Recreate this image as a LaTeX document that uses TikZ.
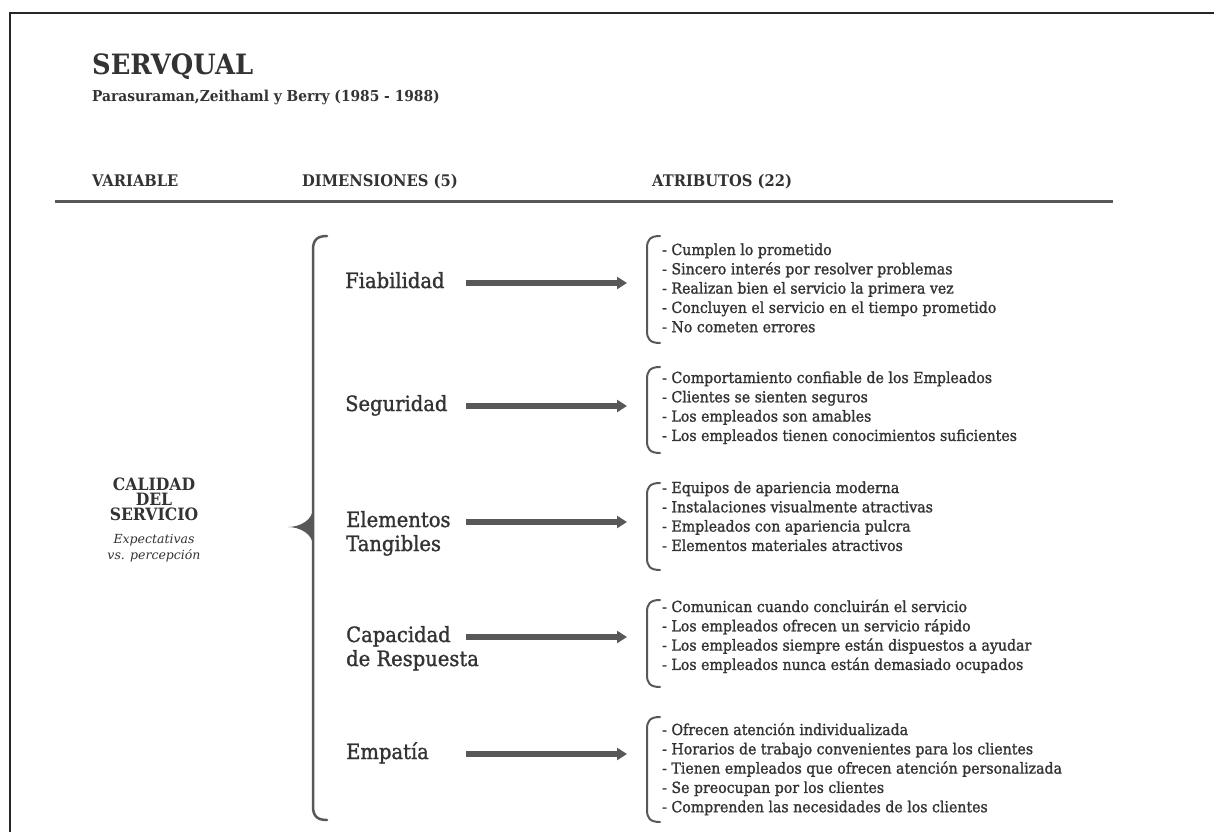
\documentclass[tikz,border=0pt]{standalone}
\usepackage{fontspec}
\setmainfont{DejaVu Serif}
\newfontfamily\txtfont{DejaVu Serif}[FakeStretch=0.93, RawFeature={embolden=1.3}]
\newfontfamily\titlefont{DejaVu Serif Bold}[FakeStretch=0.92]
\usetikzlibrary{arrows.meta}
\definecolor{ink}{HTML}{333333}
\definecolor{linegray}{HTML}{585858}
\tikzset{
  attr/.style={anchor=base west, font=\txtfont\fontsize{15.2}{17}\selectfont, text=ink, inner sep=0},
  dim/.style={anchor=base west, font=\txtfont\fontsize{21}{24}\selectfont, text=ink, inner sep=0},
  hdr/.style={anchor=base west, font=\titlefont\fontsize{16}{18}\selectfont, text=ink, inner sep=0},
  varb/.style={anchor=base, font=\titlefont\fontsize{17}{18}\selectfont, text=ink, inner sep=0, text height=12.2pt, text depth=0pt},
  vari/.style={anchor=base, font=\itshape\fontsize{12.5}{14}\selectfont, text=ink, inner sep=0},
  arr/.style={line width=5.5pt, draw=linegray, -{Triangle[length=10pt,width=12pt]}},
  brk/.style={draw=linegray, line width=2.5pt, line cap=round},
  sbrk/.style={draw=linegray, line width=2pt, line cap=round},
}
\newcommand\attrbrk[2]{%
  \draw[sbrk] (660,#1) .. controls (650,#1) and (647,{#1+4}) .. (647,{#1+12})
    -- (647,{#2-12}) .. controls (647,{#2-4}) and (650,#2) .. (660,#2);}
\begin{document}
\begin{tikzpicture}[x=1pt,y=-1pt]
\useasboundingbox (0,0) rectangle (1214,832);
\fill[white] (0,0) rectangle (1214,832);
% frame
\draw[line width=2pt, draw=black!85] (10,832) -- (10,13) -- (1214,13);
% title
\node[anchor=base west, font=\titlefont\fontsize{28}{30}\selectfont, text=ink, inner sep=0] (title) at (92,75) {SERVQUAL};
\node[anchor=base west, font=\titlefont\fontsize{15}{16}\selectfont, text=ink, inner sep=0] (sub) at (92,102) {Parasuraman,Zeithaml y Berry (1985 - 1988)};
% headers
\node[hdr] (hvar) at (92,186) {VARIABLE};
\node[hdr] (hdim) at (302,186) {DIMENSIONES (5)};
\node[hdr] (hatr) at (652,186) {ATRIBUTOS (22)};
\draw[line width=3pt, draw=linegray] (55,201) -- (1113,201);
% variable
\node[varb] (v1) at (154,490) {CALIDAD};
\node[varb] (v2) at (154,505) {DEL};
\node[varb] (v3) at (154,520) {SERVICIO};
\node[vari] (v4) at (154,543) {Expectativas};
\node[vari] (v5) at (154,559) {vs. percepción};
% big bracket
\draw[brk] (327,236) .. controls (316,236) and (313,241) .. (313,250) -- (313,806) .. controls (313,815) and (316,820) .. (327,820);
\fill[linegray] (313,508) .. controls (313,520) and (300,527) .. (288,527) .. controls (300,527) and (313,534) .. (313,546) -- cycle;
% dimensions
\node[dim] (d1) at (345,288) {Fiabilidad};
\node[dim] (d2) at (345,411) {Seguridad};
\node[dim] (d3) at (346,527) {Elementos};
\node[dim] (d3b) at (346,551) {Tangibles};
\node[dim] (d4) at (346,642) {Capacidad};
\node[dim] (d4b) at (346,666) {de Respuesta};
\node[dim] (d5) at (346,759) {Empatía};
% arrows
\coordinate (s1) at (466,283); \coordinate (e1) at (627,283);
\coordinate (s2) at (466,406); \coordinate (e2) at (627,406);
\coordinate (s3) at (466,522); \coordinate (e3) at (627,522);
\coordinate (s4) at (466,637); \coordinate (e4) at (627,637);
\coordinate (s5) at (466,754); \coordinate (e5) at (627,754);
\foreach \k in {1,...,5} \draw[arr] (s\k) -- (e\k);
% attribute brackets
\attrbrk{236}{343}
\attrbrk{367}{453}
\attrbrk{483}{570}
\attrbrk{600}{687}
\attrbrk{717}{822}
% attributes
\foreach \t [count=\i] in {{- Cumplen lo prometido},{- Sincero interés por resolver problemas},{- Realizan bien el servicio la primera vez},{- Concluyen el servicio en el tiempo prometido},{- No cometen errores}}
  \node[attr] (fa\i) at (662,{255+19.3*(\i-1)}) {\t};
\foreach \t [count=\i] in {{- Comportamiento confiable de los Empleados},{- Clientes se sienten seguros},{- Los empleados son amables},{- Los empleados tienen conocimientos suficientes}}
  \node[attr] (sa\i) at (662,{383+19.3*(\i-1)}) {\t};
\foreach \t [count=\i] in {{- Equipos de apariencia moderna},{- Instalaciones visualmente atractivas},{- Empleados con apariencia pulcra},{- Elementos materiales atractivos}}
  \node[attr] (ea\i) at (662,{493+19.3*(\i-1)}) {\t};
\foreach \t [count=\i] in {{- Comunican cuando concluirán el servicio},{- Los empleados ofrecen un servicio rápido},{- Los empleados siempre están dispuestos a ayudar},{- Los empleados nunca están demasiado ocupados}}
  \node[attr] (ca\i) at (662,{612+19.3*(\i-1)}) {\t};
\foreach \t [count=\i] in {{- Ofrecen atención individualizada},{- Horarios de trabajo convenientes para los clientes},{- Tienen empleados que ofrecen atención personalizada},{- Se preocupan por los clientes},{- Comprenden las necesidades de los clientes}}
  \node[attr] (pa\i) at (662,{735+19.3*(\i-1)}) {\t};
\end{tikzpicture}
\end{document}
